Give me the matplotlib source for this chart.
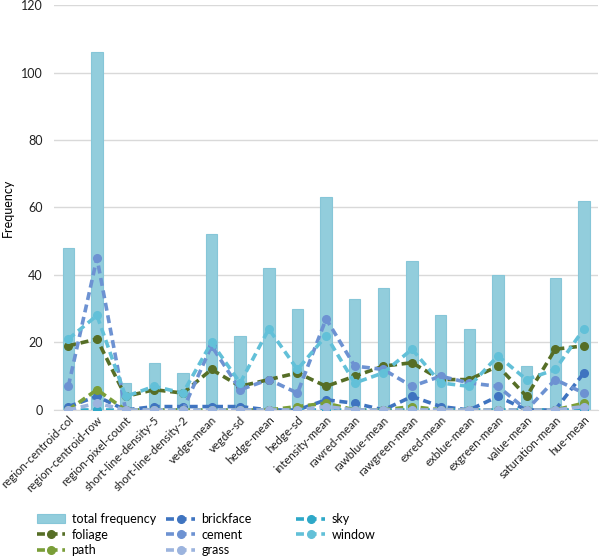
import matplotlib
matplotlib.use("Agg")
import matplotlib.pyplot as plt
import numpy as np

plt.rcParams['font.family'] = ['Lato', 'DejaVu Sans']

categories = ["region-centroid-col", "region-centroid-row", "region-pixel-count",
              "short-line-density-5", "short-line-density-2", "vedge-mean", "vegde-sd",
              "hedge-mean", "hedge-sd", "intensity-mean", "rawred-mean", "rawblue-mean",
              "rawgreen-mean", "exred-mean", "exblue-mean", "exgreen-mean", "value-mean",
              "saturation-mean", "hue-mean"]

total_frequency = [48, 106, 8, 14, 11, 52, 22, 42, 30, 63, 33, 36, 44, 28, 24, 40, 13, 39, 62]
brickface = [1, 4, 0, 1, 1, 1, 1, 0, 0, 3, 2, 0, 4, 1, 0, 4, 0, 0, 11]
sky       = [0, 0, 0, 0, 0, 0, 0, 0, 0, 0, 0, 0, 0, 0, 0, 0, 0, 0, 0]
foliage   = [19, 21, 4, 6, 5, 12, 7, 9, 11, 7, 10, 13, 14, 9, 9, 13, 4, 18, 19]
cement    = [7, 45, 0, 0, 0, 19, 6, 9, 5, 27, 13, 12, 7, 10, 8, 7, 0, 9, 5]
window    = [21, 28, 4, 7, 5, 20, 8, 24, 12, 22, 8, 11, 18, 8, 7, 16, 9, 12, 24]
path      = [0, 6, 0, 0, 0, 0, 0, 0, 1, 2, 0, 0, 1, 0, 0, 0, 0, 0, 2]
grass     = [0, 2, 0, 0, 0, 0, 0, 0, 0, 1, 0, 0, 0, 0, 0, 0, 0, 0, 1]

fig = plt.figure(figsize=(6.0, 5.57), dpi=100)
ax = fig.add_axes([0.09, 0.264, 0.907, 0.727])

x = np.arange(len(categories))
bars = ax.bar(x, total_frequency, width=0.4, color='#92CDDC', edgecolor='#86C6D8',
              linewidth=0.8, label='total frequency', zorder=2)

dash = (0, (2.2, 1.3))
series = [
    ('brickface', brickface, '#3F74C0'),
    ('sky', sky, '#2EA8C8'),
    ('foliage', foliage, '#566E26'),
    ('cement', cement, '#6D92D2'),
    ('window', window, '#62C0D8'),
    ('path', path, '#7A9E38'),
    ('grass', grass, '#9CB4DE'),
]
handles = {'total frequency': bars}
for name, vals, col in series:
    ln, = ax.plot(x, vals, linestyle=dash, color=col, linewidth=2.6, marker='o',
                  markersize=5.5, label=name, zorder=3)
    handles[name] = ln

ax.set_xlim(-0.5, len(categories) - 0.5)
ax.set_ylim(0, 120)
ax.set_yticks(np.arange(0, 121, 20))
ax.yaxis.grid(True, color='#D9D9D9', linewidth=1)
ax.set_axisbelow(True)
for s in ['top', 'right', 'left']:
    ax.spines[s].set_visible(False)
ax.spines['bottom'].set_color('#D9D9D9')
ax.tick_params(axis='both', length=0, labelsize=9, colors='#222222')
ax.tick_params(axis='y', pad=8)
ax.tick_params(axis='x', pad=3)
ax.set_xticks(x)
ax.set_xticklabels(categories, rotation=45, ha='right', rotation_mode='anchor', fontsize=8.3)
ax.set_ylabel('Frequency', fontsize=9, labelpad=5)

cols = [['total frequency', 'foliage', 'path'],
        ['brickface', 'cement', 'grass'],
        ['sky', 'window']]
xpos = [0.061, 0.277, 0.494]
for names, xp in zip(cols, xpos):
    leg = fig.legend([handles[k] for k in names], names, loc='upper left',
                     bbox_to_anchor=(xp, 0.079), frameon=False, fontsize=9,
                     handlelength=2.3, labelspacing=0.3, handletextpad=0.5,
                     borderpad=0.0, borderaxespad=0.0)

fig.savefig('out.png', dpi=100)
